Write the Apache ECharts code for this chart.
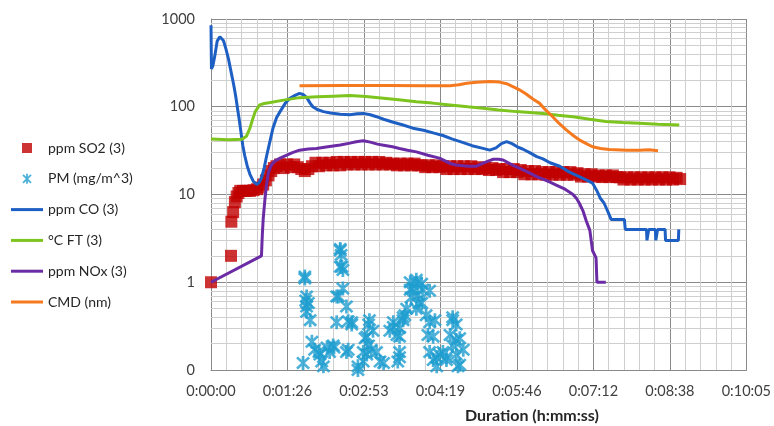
<!DOCTYPE html>
<html>
<head>
<meta charset="utf-8">
<script src="https://cdn.jsdelivr.net/npm/echarts@6/dist/echarts.min.js"></script>
<style>
html,body{margin:0;padding:0;background:#fff;}
#chart{width:774px;height:426px;}
</style>
</head>
<body>
<div id="chart"></div>
<script>
// ---- Data (x = seconds of duration, y = value) ----
const seriesNames = ['ppm SO2 (3)', 'PM (mg/m^3)', 'ppm CO (3)', '\u00B0C FT (3)', 'ppm NOx (3)', 'CMD (nm)'];
const yTickLabels = ['0', '1', '10', '100', '1000'];
const xTickStepSeconds = 86.4;

const so2 = [[0,1],[22.6,2],[23,4.9],[25,6.3],[27,8.2],[29,9.5],[31,10.4],[33,11],[36,11],[40,11],[44,11],[48,11.2],[52,11.5],[56,12],[59,13],[62,14.5],[65,16.5],[68,18.5],[71,20],[74,21],
[78,22],[82,20],[86,22],[90,20.5],[94,22],[98,20.5],[102,19.5],[106,18.5],[110,19.5],[114,21],[118,23],[122,21],[126,23],[130,21.5],[134,23],[138,21.5],[142,23.5],[146,21.5],[150,23.5],[154,22],[158,23.5],[162,22],[166,23.5],[170,22],[174,23.5],[178,22],[182,23.5],[186,22],[190,23.5],[194,22],[198,23],[202,22],
[206,22.5],[210,21.5],[214,22.5],[218,21.5],[222,22.5],[226,21.5],[230,22.5],[234,21.5],[238,21.5],[242,20.5],[246,21.5],[250,20.5],[254,21.5],[258,20.5],[262,21],[266,19.5],[270,21],[274,19.5],[278,21],[282,19.5],[286,21],[290,19.5],[294,21],[298,19.5],[302,20.5],[306,19.5],
[310,20],[314,19],[318,20],[322,19],[326,19.5],[330,18],[334,19.5],[338,18],[342,19.5],[346,18],[350,19],[354,17],[358,18.5],[362,17],[366,18.5],[370,17],[374,18],[378,16.8],[382,18],[386,16.8],[390,18],[394,16.8],[398,18],[402,16.8],[406,18],[410,16.8],
[414,17.5],[418,16],[422,17],[426,16],[430,17],[434,16],[438,16.5],[442,15.8],[446,16.5],[450,15.8],[454,16.5],[458,15.8],[462,15.7],[466,14.8],[470,15.7],[474,14.8],[478,15.7],[482,14.8],[486,15.7],[490,14.8],[494,15.7],[498,14.8],[502,15.7],[506,14.8],[510,15.7],[514,14.8],[518,15.7],[522,14.8],[526,15.5],[530,15]];

const pm = [[104,0.12],[106,1.16],[106,1.1],[108,0.69],[107,0.62],[110,0.58],[108,0.53],[108,0.46],[112,0.37],[114,0.21],[117,0.17],[122,0.16],[123,0.15],[125,0.125],[127,0.11],[131,0.18],[134,0.16],[138,0.19],[139,0.18],
[146,2.4],[146,2.3],[147,2.05],[146,1.5],[148,1.5],[149,1.38],[149,0.85],[142,0.69],[144,0.69],[153,0.53],[142,0.35],[155,0.36],[159,0.33],[159,0.35],[153,0.16],[155,0.17],[166,0.11],[166,0.1],
[179,0.37],[178,0.33],[183,0.28],[174,0.23],[176,0.24],[178,0.19],[187,0.16],[176,0.15],[172,0.16],[191,0.125],[172,0.125],[181,0.17],[195,0.12],
[206,0.35],[206,0.31],[213,0.3],[202,0.28],[210,0.25],[213,0.24],[217,0.37],[221,0.5],[217,0.4],[213,0.16],[213,0.14],[211,0.125],[219,0.42],
[225,1.0],[225,0.82],[232,1.07],[232,0.98],[238,0.96],[239,0.82],[228,0.85],[234,0.72],[226,0.67],[238,0.58],[235,0.58],[232,0.5],[247,0.8],[243,0.42],[253,0.37],[247,0.35],[245,0.25],[251,0.24],[247,0.16],[251,0.13],[255,0.11],[255,0.14],[258,0.15],[266,0.14],
[273,0.4],[273,0.37],[277,0.33],[270,0.25],[281,0.23],[277,0.22],[273,0.19],[285,0.17],[277,0.15],[266,0.13],[281,0.115],[279,0.11],[262,0.16]];

const co = [[0,850],[0.5,270],[2,290],[4.5,390],[7,560],[10,628],[12,610],[14,570],[17,450],[19.6,356],[22,270],[24,215],[26,170],[28,130],[30,95],[32,70],[34,50],[36,36],[38,28],[41,21],[44,17],[48,14],[52,13],[55,14],[57,15.5],[60,20],[63,28],[66,38],[70,57],[74,75],[78,88],[84,110],[89,125],[95,135],[100,142],[104,138],[108,128],[112,110],[115,100],[120,93],[127,88],[135,85],[146,82],[157,81],[165,83],[172,84],[180,81],[187,77],[195,72],[205,67],[217,62],[228,57],[240,54],[252,50],[262,47],[272,43],[285,39],[295,36],[305,34],[315,32],[322,34],[328,38],[334,40],[340,38],[346,35],[352,33],[360,30],[368,27],[375,25.5],[383,23],[394,21],[405,18],[416,16],[425,14.5],[431,13.5],[436,11],[440,9],[444,8],[448,6.5],[452,5.2],[467,5.2],[468,4],[492,4],[492.5,3],[494,3],[494.5,4],[502,4],[502.5,3],[504,3],[504.5,4],[513,4],[513.5,3],[528,3],[528.5,4]];

const ft = [[0,43],[20,42],[35,42.5],[40,46],[44,57],[47,72],[50,88],[55,105],[60,109],[67,112],[82,119],[100,127],[120,130],[138,132],[157,134],[175,131],[195,125],[212,120],[232,114],[250,110],[270,105],[290,100],[307,96],[325,92],[345,88],[360,86],[375,84],[392,80],[409,77],[428,72],[446,68],[465,66],[484,65],[505,63],[529,62]];

const nox = [[0,1],[57,2],[58,3.5],[59,5.3],[61,9],[63,13.5],[65,18],[68,21.5],[72,24],[78,26],[85,28],[92,30],[100,32],[110,33],[119,33.5],[132,35],[146,36.6],[157,38.5],[164,40],[172,41],[180,39.5],[188,37.5],[195,36.5],[205,35],[213,33.5],[222,32],[232,30.6],[245,28],[258,26],[265,24],[270,22.6],[277,21.7],[290,21],[300,21],[307,22.6],[313,24],[319,25.2],[325,25.2],[330,24.7],[337,22.6],[343,21],[349,19.8],[358,18],[368,16],[375,15],[383,13.8],[390,12.8],[400,11.5],[409,10],[413,9],[416,8],[420,6.6],[424,5],[428,3.9],[431,2.3],[435,1.9],[436,1],[446,1]];

const cmd = [[100,174],[150,175],[200,175],[240,173],[270,173],[280,178],[289,185],[300,190],[315,194],[326,191],[334,183],[341,170],[348,157],[356,140],[364,122],[371,110],[378,92],[386,77],[393,65],[401,55],[408,48],[416,42],[424,38],[431,35],[440,33.5],[450,32.5],[470,32],[484,32],[495,32.3],[505,31.6]];

// log-axis minor gridline positions (2..9 per decade)
const decades = [0.1, 1, 10, 100];
const minorMultipliers = [2, 3, 4, 5, 6, 7, 8, 9];

// ---- Chart ----
const minorGrid = [];
decades.forEach(d => minorMultipliers.forEach(k => minorGrid.push({ yAxis: +(k * d).toPrecision(3) })));

function fmtDuration(s) {
  const t = Math.round(s);
  const h = Math.floor(t / 3600), m = Math.floor((t % 3600) / 60), sec = t % 60;
  return h + ':' + String(m).padStart(2, '0') + ':' + String(sec).padStart(2, '0');
}
function fmtY(v) {
  if (v < 0.5) return yTickLabels[0];
  return String(Math.round(v));
}

const asterisk = 'path://M4.1,0L5.9,0L5.9,10L4.1,10Z M0.364,1.636L1.636,0.364L9.636,8.364L8.364,9.636Z M8.364,0.364L9.636,1.636L1.636,9.636L0.364,8.364Z';
const squareIcon = 'path://M0,0L10,0L10,10L0,10Z';
const lineIcon = 'path://M0,0L32,0L32,3L0,3Z';

const colors = ['#C00000', '#1E9DD0', '#1E5FC4', '#7DC51E', '#6A2BA5', '#F5791E'];
const legendIcons = [squareIcon, asterisk, lineIcon, lineIcon, lineIcon, lineIcon];

const FONT = 'Lato, "Open Sans", sans-serif';
const chart = echarts.init(document.getElementById('chart'), null, { renderer: 'canvas' });
chart.setOption({
  animation: false,
  backgroundColor: '#ffffff',
  title: {
    text: 'Duration (h:mm:ss)',
    left: 465, top: 408, padding: 0,
    textStyle: { fontFamily: FONT, fontSize: 16, fontWeight: 'bold', color: '#262626' }
  },
  legend: {
    orient: 'vertical', left: 11, top: 141, padding: 0,
    itemWidth: 32, itemHeight: 10, itemGap: 16.8,
    data: seriesNames.map((n, i) => ({ name: n, icon: legendIcons[i], itemStyle: { color: colors[i] } })),
    textStyle: { fontFamily: FONT, fontSize: 14, color: '#262626', lineHeight: 14 }
  },
  grid: { left: 211, right: 27, top: 19, bottom: 56 },
  xAxis: {
    type: 'value', min: 0, max: 7 * xTickStepSeconds, interval: xTickStepSeconds,
    axisLine: { show: true, lineStyle: { color: '#8a8a8a', width: 1 } },
    axisTick: { show: false },
    axisLabel: { formatter: fmtDuration, fontFamily: FONT, fontSize: 14.5, color: '#404040', margin: 14 },
    splitLine: { show: true, lineStyle: { color: '#8a8a8a', width: 1 } },
    minorTick: { show: false, splitNumber: 5 },
    minorSplitLine: { show: true, lineStyle: { color: '#cfcfcf', width: 1 } }
  },
  yAxis: {
    type: 'log', logBase: 10, min: 0.1, max: 1000,
    axisLine: { show: true, lineStyle: { color: '#8a8a8a', width: 1 } },
    axisTick: { show: false },
    axisLabel: { formatter: fmtY, fontFamily: FONT, fontSize: 14.5, color: '#404040', margin: 16 },
    splitLine: { show: true, lineStyle: { color: '#8a8a8a', width: 1 } }
  },
  series: [
    {
      name: 'minor-grid', type: 'line', data: [], silent: true, z: 1,
      markLine: {
        silent: true, z: 1, animation: false,
        symbol: ['none', 'none'], label: { show: false },
        lineStyle: { color: '#cfcfcf', width: 1, type: 'solid' },
        emphasis: { disabled: true },
        data: minorGrid
      }
    },
    { name: seriesNames[0], type: 'scatter', data: so2, symbol: 'rect', symbolSize: 12,
      itemStyle: { color: colors[0] }, z: 2 },
    { name: seriesNames[1], type: 'scatter', data: pm, symbol: asterisk, symbolSize: 14,
      itemStyle: { color: colors[1] }, z: 3 },
    { name: seriesNames[2], type: 'line', data: co, symbol: 'none', showSymbol: false,
      lineStyle: { color: colors[2], width: 3 }, itemStyle: { color: colors[2] }, z: 4 },
    { name: seriesNames[3], type: 'line', data: ft, symbol: 'none', showSymbol: false,
      lineStyle: { color: colors[3], width: 3 }, itemStyle: { color: colors[3] }, z: 5 },
    { name: seriesNames[4], type: 'line', data: nox, symbol: 'none', showSymbol: false,
      lineStyle: { color: colors[4], width: 3 }, itemStyle: { color: colors[4] }, z: 6 },
    { name: seriesNames[5], type: 'line', data: cmd, symbol: 'none', showSymbol: false,
      lineStyle: { color: colors[5], width: 3 }, itemStyle: { color: colors[5] }, z: 7 }
  ]
});
</script>
</body>
</html>
